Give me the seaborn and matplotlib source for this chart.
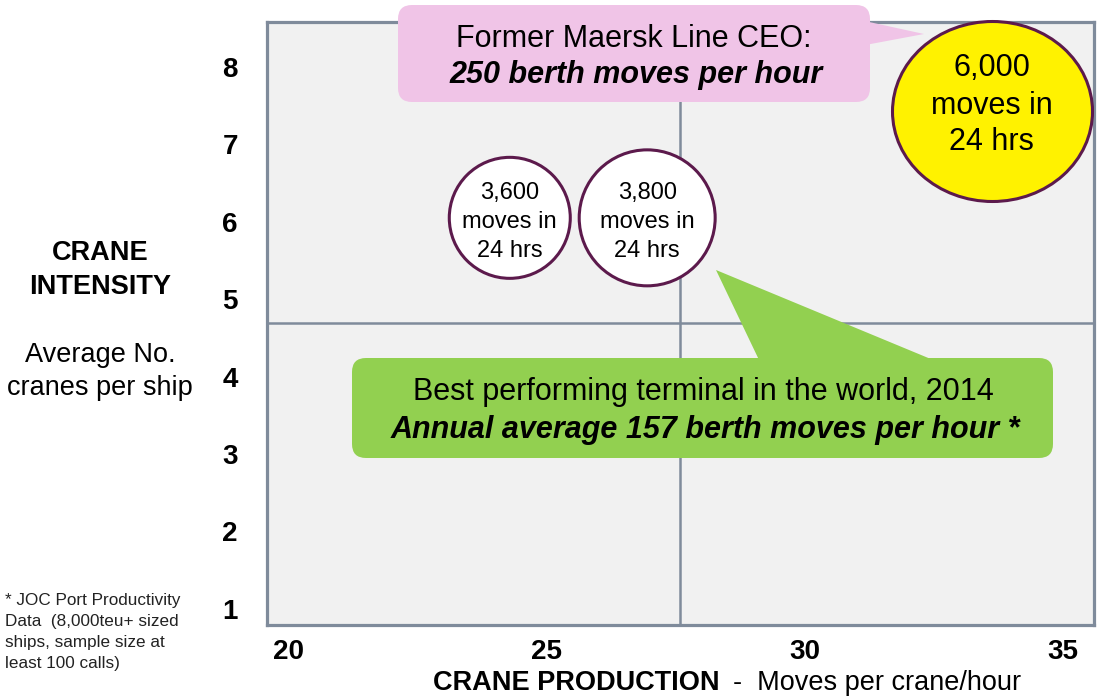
import numpy as np
import pandas as pd
import matplotlib
matplotlib.use("Agg")
import matplotlib.pyplot as plt
from matplotlib.patches import FancyBboxPatch, Polygon
from matplotlib.transforms import Affine2D
from matplotlib.path import Path
import seaborn as sns

# ---------------- data ----------------
bubble_moves = ["3,600", "3,800", "6,000"]
crane_production = [24.29, 26.95, 33.62]   # moves per crane / hour
crane_intensity = [6.05, 6.05, 7.43]       # average no. of cranes per ship
x_ticks = [20, 25, 30, 35]
y_ticks = [1, 2, 3, 4, 5, 6, 7, 8]
divider_x = 27.58
divider_y = 4.69

df = pd.DataFrame({"production": crane_production,
                   "intensity": crane_intensity,
                   "moves": bubble_moves})

# ---------------- style ----------------
sns.set_theme(style="white")
plt.rcParams["font.family"] = ["Liberation Sans", "DejaVu Sans"]
plt.rcParams["text.color"] = "black"
plt.rcParams["xtick.color"] = "black"
plt.rcParams["ytick.color"] = "black"

W, H = 1098, 699
fig = plt.figure(figsize=(W / 100, H / 100), dpi=100)
fig.patch.set_facecolor("white")
ax = fig.add_axes([267 / W, 1 - 625 / H, (1094 - 267) / W, (625 - 22) / H])
ax.set_facecolor("#F1F1F1")
ax.set_xlim(19.59, 35.6)
ax.set_ylim(0.79, 8.58)

frame_col = "#7F8B9B"
for sp in ax.spines.values():
    sp.set_color(frame_col)
    sp.set_linewidth(2.3)

ax.axvline(divider_x, color=frame_col, lw=1.8, zorder=1)
ax.axhline(divider_y, color=frame_col, lw=1.8, zorder=1)

ax.set_xticks(x_ticks)
ax.set_xticklabels([str(t) for t in x_ticks], fontsize=20, fontweight="bold",
                   color="black")
ax.set_yticks(y_ticks)
ax.set_yticklabels([str(t) for t in y_ticks], fontsize=20, fontweight="bold",
                   color="black")
ax.tick_params(axis="x", length=0, pad=10)
ax.tick_params(axis="y", length=0, pad=21)

edge_col = "#5C1A4C"
# white bubbles
small = df.iloc[:2]
sns.scatterplot(data=small, x="production", y="intensity", ax=ax,
                s=[7590, 9585], color="white", edgecolor=edge_col,
                linewidth=2.2, zorder=5, legend=False, clip_on=False)
# yellow bubble (slightly oval)
oval = Affine2D().scale(1, 0.9).transform_path(Path.unit_circle())
sns.scatterplot(data=df.iloc[2:], x="production", y="intensity", ax=ax,
                s=20736, marker=oval, color="#FFF200", edgecolor=edge_col,
                linewidth=2.2, zorder=5, legend=False, clip_on=False)
ax.set_xlabel("")
ax.set_ylabel("")

# bubble texts
line_offsets = [[-25, 4, 33], [-25, 4, 33], [-43, -5, 31]]
fsz = [17, 17, 22]
for i, row in df.iterrows():
    lines = [row["moves"], "moves in", "24 hrs"]
    for ln, off in zip(lines, line_offsets[i]):
        ax.annotate(ln, (row["production"], row["intensity"]),
                    xytext=(0, -off), textcoords="offset pixels",
                    ha="center", va="center", fontsize=fsz[i],
                    color="black", zorder=6, annotation_clip=False)

# ---------------- figure-pixel helpers ----------------
T = Affine2D().scale(1, -1).translate(0, H)


def ftext(x, y, s, **kw):
    kw.setdefault("color", "black")
    fig.text(x, y + 3, s, transform=T, **kw)


# pink callout
pink = "#F0C4E7"
fig.patches.append(FancyBboxPatch((398, 5), 472, 97,
                                  boxstyle="round,pad=0,rounding_size=14",
                                  transform=T, facecolor=pink, edgecolor="none",
                                  zorder=3, figure=fig))
fig.patches.append(Polygon([[860, 20], [924, 34], [860, 46]], closed=True,
                           transform=T, facecolor=pink, edgecolor="none",
                           zorder=3, figure=fig))
ftext(634, 36, "Former Maersk Line CEO:", ha="center", va="center",
      fontsize=22, zorder=4)
ftext(636, 72, "250 berth moves per hour", ha="center", va="center",
      fontsize=22, fontweight="bold", fontstyle="italic", zorder=4)

# green callout
green = "#92D050"
fig.patches.append(FancyBboxPatch((352, 358), 701, 100,
                                  boxstyle="round,pad=0,rounding_size=14",
                                  transform=T, facecolor=green, edgecolor="none",
                                  zorder=3, figure=fig))
fig.patches.append(Polygon([[760, 362], [938, 362], [716, 270]], closed=True,
                           transform=T, facecolor=green, edgecolor="none",
                           zorder=3, figure=fig))
ftext(703, 389, "Best performing terminal in the world, 2014", ha="center",
      va="center", fontsize=22, zorder=4)
ftext(705, 427, "Annual average 157 berth moves per hour *", ha="center",
      va="center", fontsize=22, fontweight="bold", fontstyle="italic", zorder=4)

# y-axis title block
ftext(100, 250, "CRANE", ha="center", va="center", fontsize=19.5, fontweight="bold")
ftext(100, 284, "INTENSITY", ha="center", va="center", fontsize=19.5, fontweight="bold")
ftext(100, 352, "Average No.", ha="center", va="center", fontsize=19.5)
ftext(100, 385, "cranes per ship", ha="center", va="center", fontsize=19.5)

# x-axis title (baseline placed so descenders stay inside the figure)
fig.text(433, 690, "CRANE PRODUCTION", transform=T, ha="left", va="baseline",
         fontsize=19.5, fontweight="bold", color="black")
fig.text(733, 690, "-  Moves per crane/hour", transform=T, ha="left",
         va="baseline", fontsize=19.5, color="black")

# footnote
foot = ["* JOC Port Productivity", "Data  (8,000teu+ sized",
        "ships, sample size at", "least 100 calls)"]
for k, ln in enumerate(foot):
    ftext(5, 598 + k * 20.7, ln, ha="left", va="center", fontsize=12.3,
          color="#222222")

fig.savefig("out.png", dpi=100)
